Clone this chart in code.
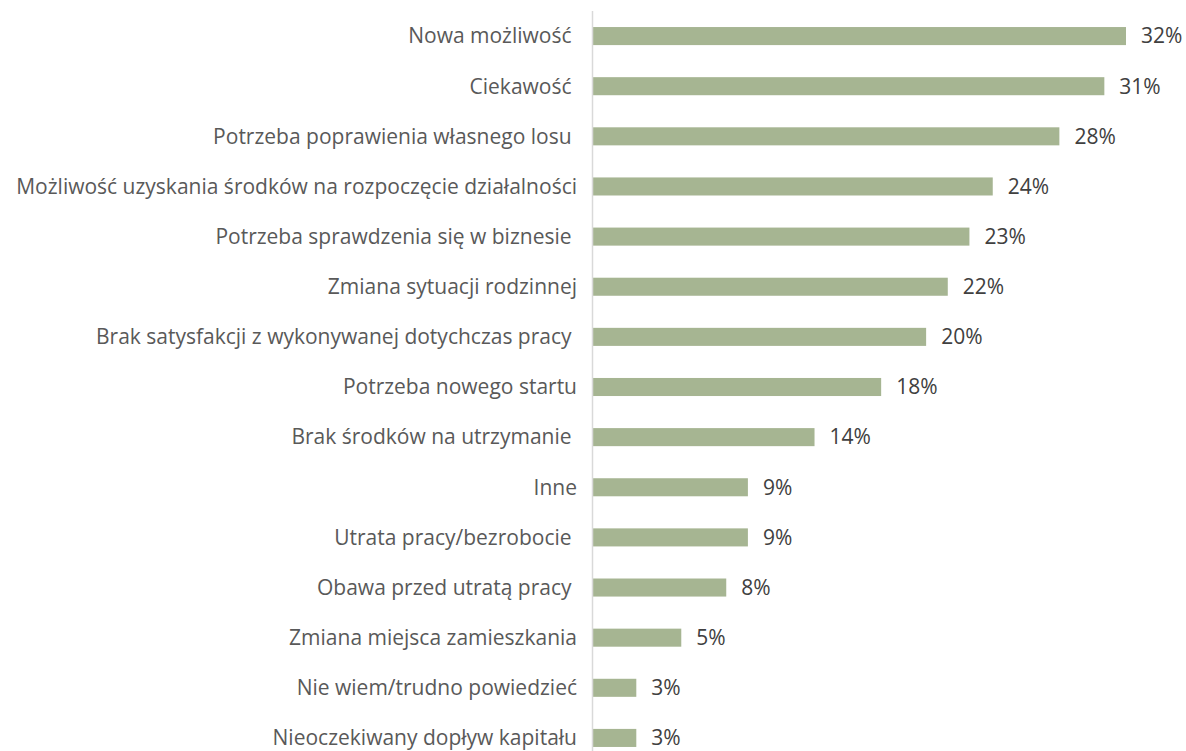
<!DOCTYPE html>
<html>
<head>
<meta charset="utf-8">
<script src="https://cdn.jsdelivr.net/npm/d3@7"></script>
<style>
  body { margin: 0; background: #fff; }
  text { white-space: pre; }
</style>
</head>
<body>
<div id="chart"></div>
<script>
// categories top to bottom (trailing spaces kept as in the source)
const categories = [
  'Nowa możliwość ',
  'Ciekawość ',
  'Potrzeba poprawienia własnego losu ',
  'Możliwość uzyskania środków na rozpoczęcie działalności',
  'Potrzeba sprawdzenia się w biznesie ',
  'Zmiana sytuacji rodzinnej',
  'Brak satysfakcji z wykonywanej dotychczas pracy ',
  'Potrzeba nowego startu',
  'Brak środków na utrzymanie ',
  'Inne',
  'Utrata pracy/bezrobocie ',
  'Obawa przed utratą pracy ',
  'Zmiana miejsca zamieszkania',
  'Nie wiem/trudno powiedzieć',
  'Nieoczekiwany dopływ kapitału'
]

// bar lengths (percent)
const values = [32.0, 30.7, 28.0, 24.0, 22.6, 21.3, 20.0, 17.3, 13.3, 9.3, 9.3, 8.0, 5.3, 2.6, 2.6]

// data labels as printed
const labels = ['32%', '31%', '28%', '24%', '23%', '22%', '20%', '18%', '14%', '9%', '9%', '8%', '5%', '3%', '3%']

const data = categories.map((c, i) => ({ cat: c, value: values[i], label: labels[i] }))

const width = 1186
const height = 751
const x0 = 593

const svg = d3
  .select('#chart')
  .append('svg')
  .attr('width', width)
  .attr('height', height)

const xPositionScale = d3
  .scaleLinear()
  .domain([0, 32])
  .range([x0, 1126])

const yPositionScale = d3
  .scaleBand()
  .domain(categories)
  .range([11, 763])
  .paddingInner(0.64)
  .paddingOuter(0.32)

svg.selectAll('.bar')
  .data(data)
  .enter()
  .append('rect')
  .attr('class', 'bar')
  .attr('x', xPositionScale(0))
  .attr('y', d => yPositionScale(d.cat))
  .attr('width', d => xPositionScale(d.value) - xPositionScale(0))
  .attr('height', yPositionScale.bandwidth())
  .attr('fill', '#a6b592')

// vertical axis line
svg.append('line')
  .attr('x1', x0 - 0.5)
  .attr('x2', x0 - 0.5)
  .attr('y1', 11)
  .attr('y2', height)
  .attr('stroke', '#d9d9d9')
  .attr('stroke-width', 1.5)

svg.selectAll('.cat-label')
  .data(data)
  .enter()
  .append('text')
  .attr('class', 'cat-label')
  .attr('x', 577)
  .attr('y', d => yPositionScale(d.cat) + yPositionScale.bandwidth() / 2)
  .attr('dy', '0.35em')
  .attr('text-anchor', 'end')
  .attr('font-family', 'Open Sans, sans-serif')
  .attr('font-size', 21)
  .attr('fill', '#595959')
  .text(d => d.cat)

svg.selectAll('.val-label')
  .data(data)
  .enter()
  .append('text')
  .attr('class', 'val-label')
  .attr('x', d => xPositionScale(d.value) + 15)
  .attr('y', d => yPositionScale(d.cat) + yPositionScale.bandwidth() / 2)
  .attr('dy', '0.35em')
  .attr('font-family', 'Open Sans, sans-serif')
  .attr('font-size', 21)
  .attr('fill', '#404040')
  .text(d => d.label)
</script>
</body>
</html>
